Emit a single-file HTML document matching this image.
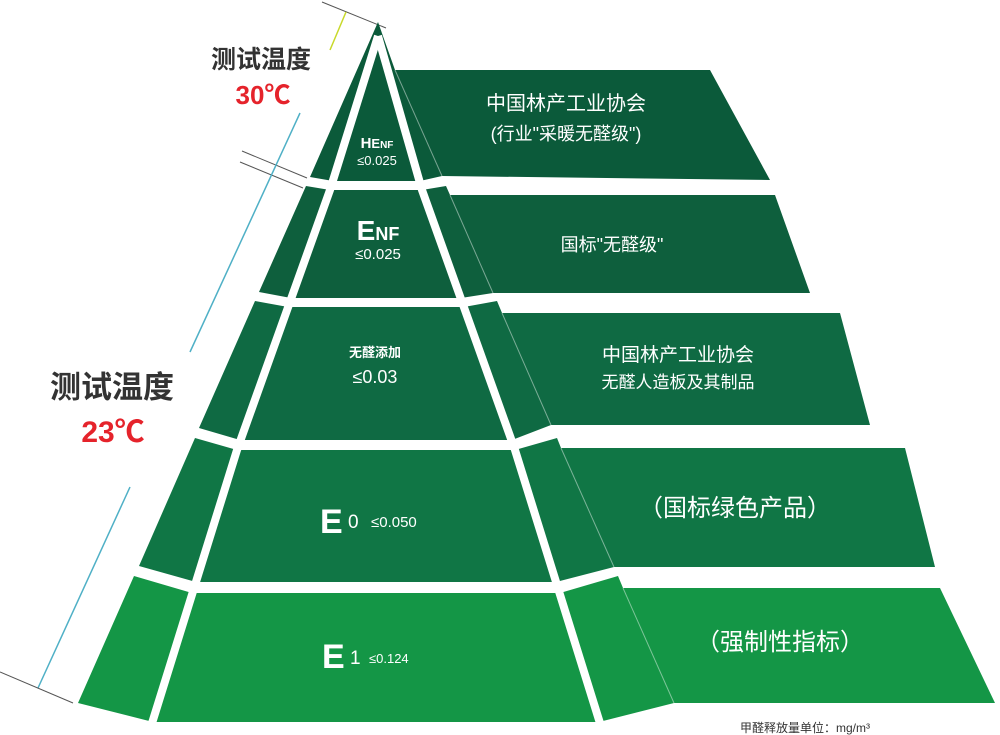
<!DOCTYPE html>
<html><head><meta charset="utf-8"><style>
html,body{margin:0;padding:0;background:#fff;}
svg{display:block;}
text{font-family:"Liberation Sans","Noto Sans CJK SC",sans-serif;}
</style></head><body>
<svg width="1000" height="735" viewBox="0 0 1000 735" xmlns="http://www.w3.org/2000/svg">
<!-- guide lines -->
<line x1="322" y1="2" x2="386" y2="28" stroke="#555" stroke-width="1"/>
<line x1="346" y1="12" x2="330" y2="50" stroke="#c8d92a" stroke-width="1.5"/>
<line x1="242" y1="151" x2="307" y2="178" stroke="#555" stroke-width="1"/>
<line x1="240" y1="162" x2="303" y2="188" stroke="#555" stroke-width="1"/>
<line x1="300" y1="113" x2="190" y2="352" stroke="#4fb0c6" stroke-width="1.5"/>
<line x1="130" y1="487" x2="38" y2="688" stroke="#4fb0c6" stroke-width="1.5"/>
<line x1="0" y1="672" x2="73" y2="703" stroke="#555" stroke-width="1"/>

<!-- tiers -->
<polygon fill="#0b5a3a" points="378,22 395,70 710,70 770,180 442,176 420,181 333,181 310,177"/>
<polygon fill="#0e5f3d" points="306,186 330,190 422,190 446,186 450,195 775,195 810,293 493,293 461,298 291,298 259,292"/>
<polygon fill="#0f6a43" points="255,301 288,307 464,307 497,301 502,313 840,313 870,425 551,425 512,440 240,440 199,428"/>
<polygon fill="#107645" points="195,438 237,450 515,450 557,438 561,448 905,448 935,567 614,567 556,582 196,582 139,566"/>
<polygon fill="#149646" points="134,576 192,593 560,593 618,576 623,588 940,588 995,703 674,703 599,722 153,722 78,703"/>

<!-- thin separator lines -->
<g stroke="#ffffff" stroke-opacity="0.45" stroke-width="1">
<line x1="395" y1="70" x2="442" y2="176"/>
<line x1="450" y1="195" x2="493" y2="293"/>
<line x1="502" y1="313" x2="551" y2="425"/>
<line x1="561" y1="448" x2="614" y2="567"/>
<line x1="623" y1="588" x2="674" y2="703"/>
</g>

<!-- white inner lines -->
<polyline fill="none" stroke="#fff" stroke-width="8" points="378,36 330,190 237,450 153,720 148,735"/>
<polyline fill="none" stroke="#fff" stroke-width="8" points="378,36 422,190 515,450 599,720 604,735"/>

<!-- left labels -->
<text x="261" y="68" font-size="25" font-weight="bold" fill="#333" text-anchor="middle">测试温度</text>
<text x="263" y="104" font-size="26" font-weight="bold" fill="#e5232b" text-anchor="middle">30℃</text>
<text x="112" y="398" font-size="31" font-weight="bold" fill="#333" text-anchor="middle">测试温度</text>
<text x="113" y="442" font-size="30" font-weight="bold" fill="#e5232b" text-anchor="middle">23℃</text>

<!-- pyramid labels -->
<text x="377" y="148" font-size="15" font-weight="bold" fill="#fff" text-anchor="middle">H<tspan font-size="13">E</tspan><tspan font-size="10">NF</tspan></text>
<text x="377" y="165" font-size="13" fill="#fff" text-anchor="middle">≤0.025</text>
<text x="378" y="240" font-size="28" font-weight="bold" fill="#fff" text-anchor="middle">E<tspan font-size="18">NF</tspan></text>
<text x="378" y="259" font-size="15" fill="#fff" text-anchor="middle">≤0.025</text>
<text x="375" y="357" font-size="13" font-weight="bold" fill="#fff" text-anchor="middle">无醛添加</text>
<text x="375" y="383" font-size="18" fill="#fff" text-anchor="middle">≤0.03</text>
<text x="320" y="533" font-size="34" font-weight="bold" fill="#fff">E</text>
<text x="348" y="528" font-size="19" fill="#fff">0</text>
<text x="371" y="527" font-size="15" fill="#fff">≤0.050</text>
<text x="322" y="668" font-size="34" font-weight="bold" fill="#fff">E</text>
<text x="350" y="664" font-size="19" fill="#fff">1</text>
<text x="369" y="663" font-size="13" fill="#fff">≤0.124</text>

<!-- box labels -->
<text x="566" y="110" font-size="20" fill="#fff" text-anchor="middle">中国林产工业协会</text>
<text x="566" y="140" font-size="18" fill="#fff" text-anchor="middle">(行业"采暖无醛级")</text>
<text x="612" y="251" font-size="18" fill="#fff" text-anchor="middle">国标"无醛级"</text>
<text x="678" y="361" font-size="19" fill="#fff" text-anchor="middle">中国林产工业协会</text>
<text x="678" y="388" font-size="17" fill="#fff" text-anchor="middle">无醛人造板及其制品</text>
<text x="735" y="516" font-size="24" fill="#fff" text-anchor="middle">（国标绿色产品）</text>
<text x="780" y="650" font-size="24" fill="#fff" text-anchor="middle">（强制性指标）</text>

<text x="740" y="732" font-size="12" fill="#333">甲醛释放量单位：mg/m³</text>
</svg>
</body></html>
